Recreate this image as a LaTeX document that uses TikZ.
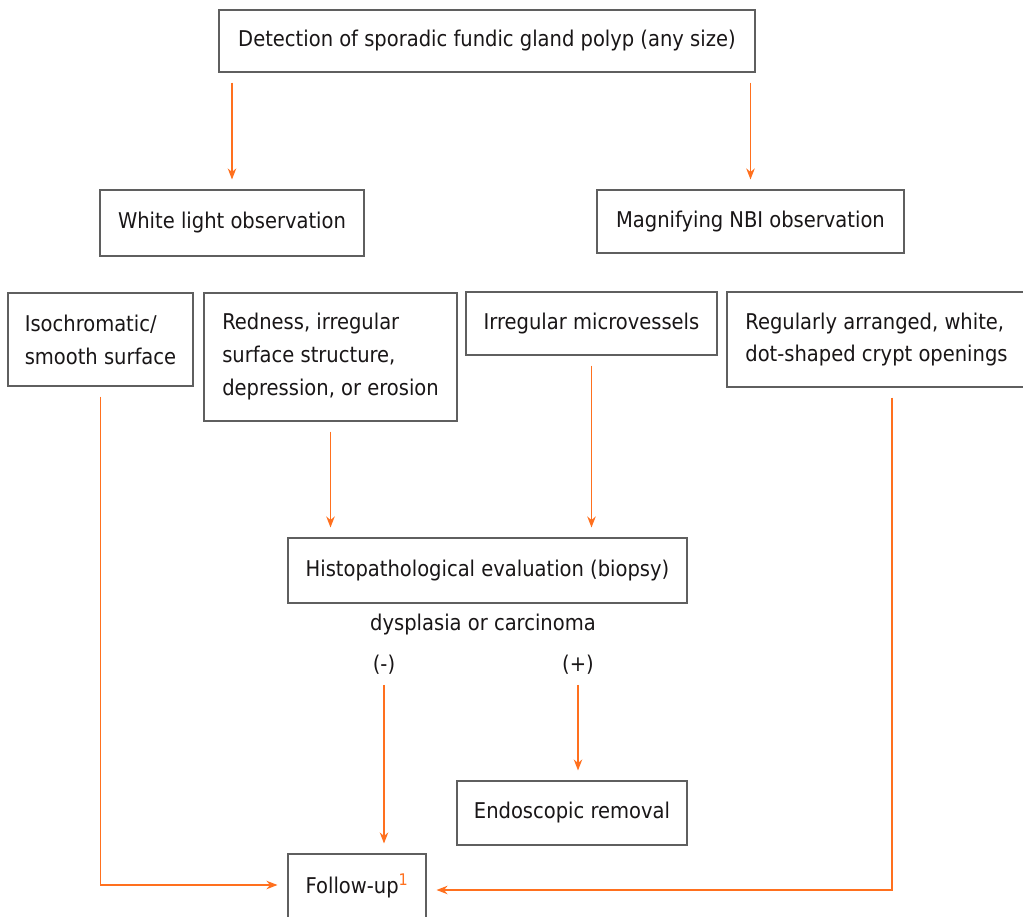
\documentclass[tikz,border=0pt]{standalone}
\usepackage{fontspec}
\setmainfont{DejaVu Sans Condensed}
\usetikzlibrary{arrows.meta}
\definecolor{arrorange}{RGB}{255,112,30}
\definecolor{boxgray}{RGB}{95,95,95}
\definecolor{txt}{RGB}{25,22,23}
\tikzset{
  box/.style={draw=boxgray, line width=1.1pt, align=left, inner sep=0pt, text=txt,
    font=\fontsize{21.7}{33}\selectfont},
  lbl/.style={inner sep=0pt, text=txt, font=\fontsize{21.7}{33}\selectfont},
  arr/.style={draw=arrorange, line width=1.3pt, -{Stealth[length=11pt,width=8.5pt]},
    shorten <=10pt, shorten >=10pt}
}
\begin{document}
\begin{tikzpicture}[x=1pt,y=-1pt]
\clip (0,0) rectangle (1023,917);
\fill[white] (0,0) rectangle (1023,917);
\node[box, minimum width=536, minimum height=62] (top) at (487,41) {Detection of sporadic fundic gland polyp (any size)};
\node[box, minimum width=264, minimum height=66] (wl) at (232,223) {White light observation};
\node[box, minimum width=307, minimum height=63] (nbi) at (750.5,221.5) {Magnifying NBI observation};
\node[box, minimum width=185, minimum height=93] (iso) at (100.5,339.5) {Isochromatic/\\smooth surface};
\node[box, minimum width=253, minimum height=128] (red) at (330.5,357) {Redness, irregular\\surface structure,\\depression, or erosion};
\node[box, minimum width=251, minimum height=63] (micro) at (591.5,323.5) {Irregular microvessels};
\node[box, minimum width=299, minimum height=95, font=\fontsize{21.7}{32}\selectfont] (reg) at (876.5,339.5) {Regularly arranged, white,\\dot-shaped crypt openings};
\node[box, minimum width=399, minimum height=65] (histo) at (487.5,570.5) {Histopathological evaluation (biopsy)};
\node[lbl] (dys) at (483,625) {dysplasia or carcinoma};
\node[lbl] (minus) at (384,665) {(-)};
\node[lbl] (plus) at (578,665) {(+)};
\node[box, minimum width=230, minimum height=64] (endo) at (572,813) {Endoscopic removal};
\node[box, minimum width=138, minimum height=64] (follow) at (357,886) {Follow-up\textsuperscript{\color{arrorange}\fontsize{16}{16}\selectfont 1}};
\coordinate (rx) at (892,0);
\draw[arr] (top.south -| wl.north) -- (wl.north);
\draw[arr] (top.south -| nbi.north) -- (nbi.north);
\draw[arr] (red.south) -- (histo.north -| red.south);
\draw[arr] (micro.south) -- (histo.north -| micro.south);
\draw[arr] (minus.south) -- (follow.north -| minus.south);
\draw[arr] (plus.south) -- (endo.north -| plus.south);
\draw[arr] (iso.south) |- ([yshift=1pt]follow.west);
\draw[arr] (reg.south -| rx) |- ([yshift=-4pt]follow.east);
\end{tikzpicture}
\end{document}
